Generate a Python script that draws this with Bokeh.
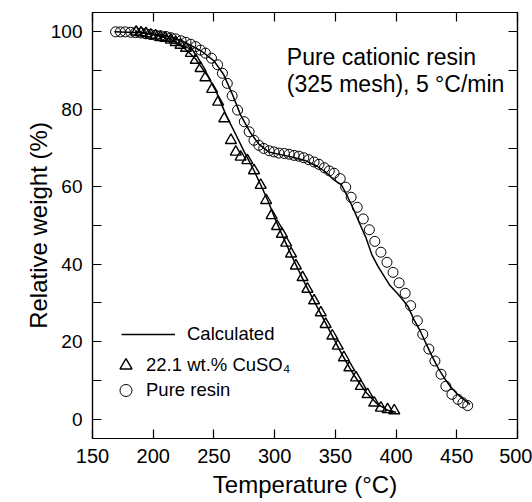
from bokeh.plotting import figure
from bokeh.models import (ColumnDataSource, Range1d, LinearAxis, FixedTicker,
                          Legend, LegendItem, Label, CustomJSTickFormatter)
from bokeh.embed import file_html
from bokeh.resources import INLINE

# ---- data ----
resin_T = [169, 173, 177, 181.5, 185.5, 190, 194, 198, 202, 206, 210.5, 214.5, 218.5,
           223, 227, 231, 235, 239, 243, 248, 253, 257, 261, 265, 269.5, 275, 279, 283,
           287, 291, 295.5, 299.5, 303.5, 308, 312, 316, 320, 324, 328, 332.5, 336.5, 341,
           345, 349, 354, 358.5, 363, 368, 373, 378, 382.5, 387.5, 392.5, 397.5, 402.5,
           407.5, 412, 417.5, 422, 427, 432, 437, 441, 446, 451, 455, 459]
resin_W = [100.0, 100.0, 100.0, 99.9, 99.8, 99.7, 99.5, 99.3, 99.1, 99.0, 98.8, 98.5, 98.2,
           97.7, 97.3, 96.8, 96.2, 95.3, 94.5, 93.2, 91.5, 89.3, 86.7, 83.5, 79.8, 76.8, 74.2, 72.0,
           70.7, 69.9, 69.3, 69.0, 68.7, 68.6, 68.4, 68.1, 67.9, 67.5, 67.0, 66.4, 65.8, 64.9,
           64.1, 63.5, 62.1, 59.9, 57.3, 54.7, 51.7, 48.9, 45.9, 43.1, 40.5, 37.9, 35.2,
           32.5, 29.3, 25.4, 21.9, 18.1, 15.0, 11.6, 8.5, 6.4, 5.1, 4.2, 3.5]

cu_T = [186, 190, 194, 198, 202, 206, 210, 214.5, 218.5, 222.5, 227, 231, 235, 239, 243,
        248.5, 253.5, 258.5, 264, 268, 272, 277.5, 283, 288.5, 293, 297.5, 302, 306, 309.5,
        313.5, 317.5, 323, 327, 332.5, 338, 342, 347.5, 352, 357, 361.5, 367, 371, 376.5,
        382, 387.5, 393, 398.5]
cu_W = [100.0, 99.8, 99.6, 99.2, 99.0, 98.6, 98.4, 97.9, 97.3, 96.6, 95.8, 94.5, 92.7, 90.6, 88.2,
        85.2, 81.9, 77.6, 72.0, 69.0, 67.7, 66.8, 64.2, 60.4, 56.5, 52.6, 49.8, 47.8, 45.5,
        42.7, 39.6, 36.6, 33.6, 30.6, 27.5, 24.5, 21.5, 18.9, 15.9, 13.3, 10.7, 8.5, 6.4,
        4.2, 2.9, 2.5, 2.2]

calc_resin_T = [168, 190, 210, 225, 240, 250, 258, 265, 272, 280, 287, 295, 305, 315, 325,
                335, 342, 348, 355, 360, 365, 370, 375, 380, 385, 390, 395, 400, 405, 410,
                415, 420, 425, 430, 435, 440, 445, 450, 455, 461]
calc_resin_W = [100, 99.8, 99.0, 97.5, 95.0, 92.5, 89.0, 84.0, 78.5, 74.0, 71.0, 69.0, 68.3,
                67.6, 66.8, 65.3, 63.8, 62.0, 60.5, 57.5, 54.2, 50.5, 47.0, 42.5, 39.5, 37.0,
                34.5, 32.8, 31.0, 29.0, 25.5, 22.7, 19.3, 16.0, 13.0, 10.5, 8.3, 6.6, 5.3, 3.8]

calc_cu_T = [186, 200, 215, 225, 235, 245, 252, 260, 268, 275, 283, 290, 295, 300, 307,
             315, 325, 335, 345, 355, 365, 375, 385, 393, 400]
calc_cu_W = [100, 99.3, 98.0, 96.0, 93.0, 88.5, 84.5, 78.5, 73.5, 69.0, 64.2, 59.5, 56.0,
             52.0, 47.0, 41.5, 35.0, 29.0, 23.0, 17.0, 11.5, 7.0, 3.8, 2.3, 1.8]

x_ticks = [150, 200, 250, 300, 350, 400, 450, 500]
y_ticks = [0, 20, 40, 60, 80, 100]
y_minor = [10, 30, 50, 70, 90]

label_line = "Calculated"
label_cu = "22.1 wt.% CuSO\u2084"
label_resin = "Pure resin"
note_1 = "Pure cationic resin"
note_2 = "(325 mesh), 5 \u00b0C/min"

FONT = "Liberation Sans"

p = figure(width=532, height=502, output_backend="svg", toolbar_location=None,
           x_range=Range1d(150, 500), y_range=Range1d(-5, 105),
           min_border_left=92, min_border_right=15, min_border_top=12,
           min_border_bottom=64,
           x_axis_label="Temperature (\u00b0C)", y_axis_label="Relative weight (%)")
p.grid.visible = False
p.outline_line_color = "black"
p.outline_line_width = 1.2
p.background_fill_color = "white"
p.border_fill_color = "white"

xa = p.xaxis[0]
xa.ticker = FixedTicker(ticks=x_ticks)
xa.major_tick_in = 9
xa.major_tick_out = 0
xa.minor_tick_line_color = None
xa.major_label_standoff = 10
xa.axis_label_standoff = 5
xa.major_label_text_font = FONT
xa.major_label_text_font_size = "20px"
xa.major_label_text_color = "black"
xa.axis_label_text_font = FONT
xa.axis_label_text_font_size = "24px"
xa.axis_label_text_font_style = "normal"
xa.axis_label_text_color = "black"
xa.axis_line_width = 1.2
xa.major_tick_line_width = 1.2

ya = p.yaxis[0]
ya.ticker = FixedTicker(ticks=y_ticks, minor_ticks=y_minor)
ya.major_tick_in = 9
ya.major_tick_out = 0
ya.minor_tick_in = 9
ya.minor_tick_out = 0
ya.major_label_standoff = 10
ya.axis_label_standoff = -4
ya.major_label_text_font = FONT
ya.major_label_text_font_size = "19px"
ya.major_label_text_color = "black"
ya.axis_label_text_font = FONT
ya.axis_label_text_font_size = "24px"
ya.axis_label_text_font_style = "normal"
ya.axis_label_text_color = "black"
ya.axis_line_width = 1.2
ya.major_tick_line_width = 1.2
ya.minor_tick_line_width = 1.2

blank = CustomJSTickFormatter(code="return ''")
top = LinearAxis(ticker=FixedTicker(ticks=x_ticks), formatter=blank,
                 major_tick_in=9, major_tick_out=0, minor_tick_line_color=None,
                 major_label_standoff=0, major_label_text_font_size="0px",
                 axis_line_width=1.2, major_tick_line_width=1.2)
p.add_layout(top, "above")
right = LinearAxis(ticker=FixedTicker(ticks=sorted(y_ticks + y_minor)), formatter=blank,
                   major_tick_in=9, major_tick_out=0, minor_tick_line_color=None,
                   major_label_standoff=0, major_label_text_font_size="0px",
                   axis_line_width=1.2, major_tick_line_width=1.2)
p.add_layout(right, "right")

src_resin = ColumnDataSource(dict(x=resin_T, y=resin_W))
src_cu = ColumnDataSource(dict(x=cu_T, y=cu_W))
src_cr = ColumnDataSource(dict(x=calc_resin_T, y=calc_resin_W))
src_cc = ColumnDataSource(dict(x=calc_cu_T, y=calc_cu_W))

r_circ = p.scatter("x", "y", source=src_resin, marker="circle", size=10,
                   fill_color=None, line_color="black", line_width=1.0)
r_tri = p.scatter("x", "y", source=src_cu, marker="triangle", size=11,
                  fill_color=None, line_color="black", line_width=1.4)
r_l1 = p.line("x", "y", source=src_cr, line_color="black", line_width=1.5)
r_l2 = p.line("x", "y", source=src_cc, line_color="black", line_width=1.5)

common = dict(padding=0, margin=0, spacing=0, border_line_alpha=0,
              background_fill_alpha=0, label_text_font=FONT,
              label_text_font_size="18.5px", label_text_color="black")
leg1 = Legend(items=[LegendItem(label=label_line, renderers=[r_l1])],
              location=(29, 93), glyph_width=54, glyph_height=20, label_height=20,
              label_standoff=12, **common)
leg2 = Legend(items=[LegendItem(label=label_cu, renderers=[r_tri])],
              location=(16, 58), glyph_width=35, glyph_height=30, label_height=30,
              label_standoff=3, **common)
leg3 = Legend(items=[LegendItem(label=label_resin, renderers=[r_circ])],
              location=(16, 33), glyph_width=35, glyph_height=30, label_height=30,
              label_standoff=3, **common)
for lg in (leg1, leg2, leg3):
    p.add_layout(lg, "center")

for txt, yy in ((note_1, 93.5), (note_2, 86.5)):
    p.add_layout(Label(x=310, y=yy, text=txt, text_font=FONT, text_font_size="23px",
                       text_color="black", text_baseline="alphabetic"))

open("out.html", "w").write(file_html(p, INLINE))
